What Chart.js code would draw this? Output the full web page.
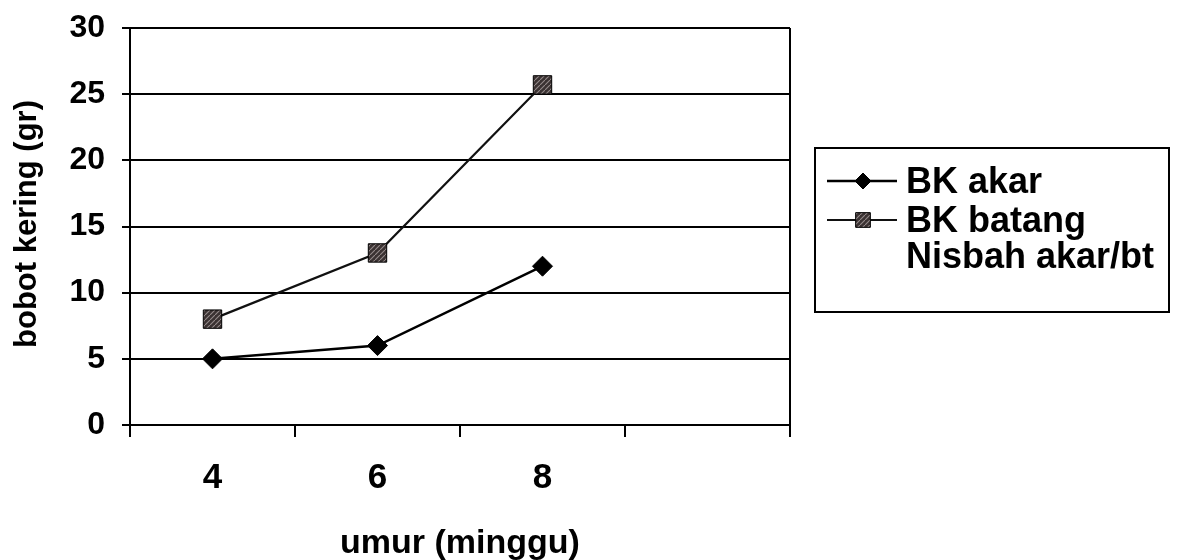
<!DOCTYPE html>
<html><head><meta charset="utf-8">
<script src="https://cdn.jsdelivr.net/npm/chart.js@4.4.0/dist/chart.umd.min.js"></script>
<style>html,body{margin:0;padding:0;background:#fff}#wrap{width:1177px;height:560px;position:relative}</style>
</head><body><div id="wrap"><canvas id="c" width="1177" height="560"></canvas></div>
<script>
// ---- data ----
const categories = ['4', '6', '8', ''];
const bkAkar = [5, 6, 12, null];
const bkBatang = [8, 13, 25.7, null];
const nisbahAkarBt = [null, null, null, null];
const seriesNames = ['BK akar', 'BK batang', 'Nisbah akar/bt'];
const yTickValues = [0, 5, 10, 15, 20, 25, 30];
const xTitleText = 'umur (minggu)';
const yTitleText = 'bobot kering (gr)';

const FONT = '"Liberation Sans", Arial, sans-serif';

function hatchPattern() {
  const p = document.createElement('canvas');
  p.width = 5; p.height = 5;
  const g = p.getContext('2d');
  g.fillStyle = '#3a3232'; g.fillRect(0, 0, 5, 5);
  g.strokeStyle = '#958b8b'; g.lineWidth = 1.1;
  g.beginPath(); g.moveTo(-1, 6); g.lineTo(6, -1); g.stroke();
  return document.getElementById('c').getContext('2d').createPattern(p, 'repeat');
}
const hatch = hatchPattern();

function marker(ctx, style, r, x, y, fill) {
  ctx.fillStyle = fill; ctx.strokeStyle = '#000'; ctx.lineWidth = 1;
  ctx.beginPath();
  if (style === 'rectRot') {
    ctx.moveTo(x - r, y); ctx.lineTo(x, y - r); ctx.lineTo(x + r, y); ctx.lineTo(x, y + r);
  } else {
    const s = r * Math.SQRT1_2; ctx.rect(x - s, y - s, 2 * s, 2 * s);
  }
  ctx.closePath(); ctx.fill(); ctx.stroke();
}

const extras = {
  id: 'extras',
  afterDraw(chart) {
    const ctx = chart.ctx, a = chart.chartArea;
    ctx.save();
    // right border of plot area
    ctx.strokeStyle = '#000'; ctx.lineWidth = 2;
    ctx.beginPath(); ctx.moveTo(a.right, a.top); ctx.lineTo(a.right, a.bottom); ctx.stroke();
    // axis titles
    ctx.fillStyle = '#000';
    ctx.textAlign = 'center'; ctx.textBaseline = 'alphabetic';
    ctx.font = 'bold 34px ' + FONT;
    ctx.fillText(xTitleText, (a.left + a.right) / 2, 553);
    ctx.save();
    ctx.translate(36, 224); ctx.rotate(-Math.PI / 2);
    ctx.font = 'bold 31px ' + FONT;
    ctx.fillText(yTitleText, 0, 0);
    ctx.restore();
    // legend
    const L = 815, T = 148, R = 1169, B = 312;
    ctx.lineWidth = 2; ctx.strokeStyle = '#000';
    ctx.strokeRect(L, T, R - L, B - T);
    const baselines = [193, 232, 268];
    ctx.font = 'bold 36px ' + FONT; ctx.textAlign = 'left';
    chart.data.datasets.forEach((ds, i) => {
      const yb = baselines[i], ym = yb - 12;
      if (ds.borderWidth > 0) {
        ctx.strokeStyle = ds.borderColor; ctx.lineWidth = ds.borderWidth;
        ctx.beginPath(); ctx.moveTo(827, ym); ctx.lineTo(897, ym); ctx.stroke();
        if (ds.pointRadius > 0) marker(ctx, ds.pointStyle, ds.pointRadius * 0.8, 863, ym, ds.pointBackgroundColor);
      }
      ctx.fillStyle = '#000';
      ctx.fillText(ds.label, 906, yb);
    });
    ctx.restore();
  }
};

new Chart(document.getElementById('c'), {
  type: 'line',
  data: {
    labels: categories,
    datasets: [
      { label: seriesNames[0], data: bkAkar, borderColor: '#000', borderWidth: 2.5,
        pointStyle: 'rectRot', pointRadius: 10, pointBackgroundColor: '#000', pointBorderColor: '#000',
        pointBorderWidth: 1, tension: 0 },
      { label: seriesNames[1], data: bkBatang, borderColor: '#111', borderWidth: 2.2,
        pointStyle: 'rect', pointRadius: 13, pointBackgroundColor: hatch, pointBorderColor: '#000',
        pointBorderWidth: 1, tension: 0 },
      { label: seriesNames[2], data: nisbahAkarBt, borderColor: 'rgba(0,0,0,0)', borderWidth: 0,
        pointRadius: 0 }
    ]
  },
  options: {
    responsive: false, animation: false, devicePixelRatio: 1,
    layout: { padding: { left: 0, top: 28, right: 387, bottom: 0 } },
    plugins: { legend: { display: false }, tooltip: { enabled: false } },
    scales: {
      x: {
        type: 'category', offset: true,
        grid: { offset: true, drawOnChartArea: false, drawTicks: true, tickLength: 12, color: '#000', lineWidth: 2 },
        border: { display: true, color: '#000', width: 2 },
        ticks: { color: '#000', font: { family: FONT, size: 35, weight: 'bold' }, padding: 20, maxRotation: 0 },
        afterFit: s => { s.height = 135; s.paddingLeft = 0; s.paddingRight = 0; }
      },
      y: {
        min: 0, max: 30,
        afterBuildTicks: s => { s.ticks = yTickValues.map(v => ({ value: v })); },
        grid: { color: '#000', lineWidth: 2, drawTicks: true, tickLength: 8 },
        border: { display: true, color: '#000', width: 2 },
        ticks: { color: '#000', font: { family: FONT, size: 32, weight: 'bold' }, padding: 17 },
        afterFit: s => { s.width = 130; s.paddingTop = 0; s.paddingBottom = 0; }
      }
    }
  },
  plugins: [extras]
});
</script></body></html>
